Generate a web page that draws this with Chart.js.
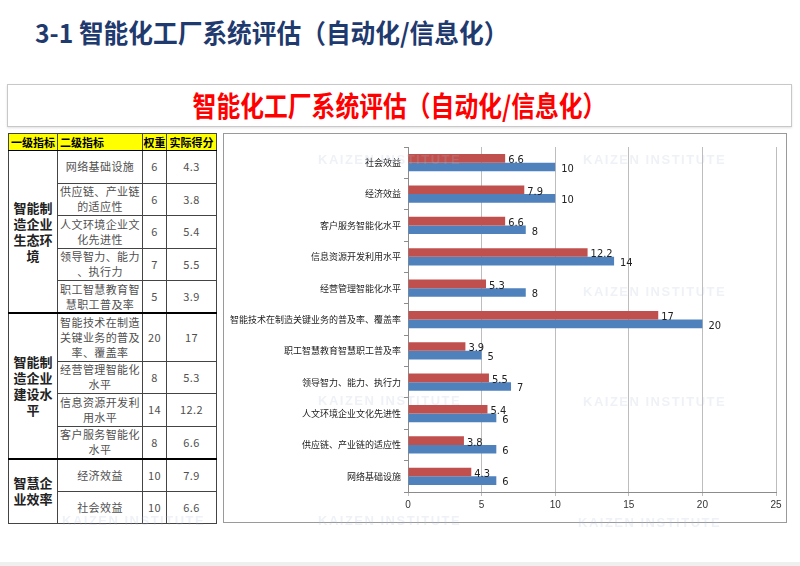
<!DOCTYPE html>
<html><head><meta charset="utf-8">
<script src="https://cdn.jsdelivr.net/npm/chart.js@4.4.0/dist/chart.umd.min.js"></script>
<style>
html,body{margin:0;padding:0;background:#fff;width:800px;height:566px;overflow:hidden;font-family:"Noto Sans CJK SC",sans-serif;}
#page{position:relative;width:800px;height:566px;}
#title{position:absolute;left:35px;top:14px;font-size:26px;font-weight:bold;color:#1F3A6E;white-space:nowrap;transform-origin:left top;transform:scaleX(0.95);line-height:36px;}
#box{position:absolute;left:7px;top:84px;width:785px;height:43px;border:1px solid #C8C8C8;box-sizing:border-box;box-shadow:0 1px 2px rgba(0,0,0,0.12);}
#boxTitle{position:absolute;left:0;right:0;top:0;height:41px;line-height:41px;text-align:center;color:#FF0000;font-weight:bold;font-size:28px;transform:scaleX(0.85);white-space:nowrap;}
#tbl{position:absolute;left:8px;top:133px;width:208px;border-collapse:collapse;table-layout:fixed;border:1.5px solid #000;}
#tbl td,#tbl th{border:1px solid #444;padding:0;text-align:center;vertical-align:middle;color:#505050;font-size:11px;letter-spacing:0.4px;line-height:15px;}
#tbl th{background:#FFFF00;color:#000;font-weight:bold;height:16px;font-size:11px;letter-spacing:0;border-bottom:1px solid #000;}
#tbl td.g{font-weight:bold;font-size:13px;color:#222;line-height:16px;letter-spacing:0;}
#tbl td.g div{width:41px;margin:0 auto;}
#tbl td.s div{width:81px;margin:0 auto;line-break:anywhere;word-break:break-all;}
#tbl tr.gs td{border-top:2px solid #000;}
#cbox{position:absolute;left:223px;top:133px;width:564px;height:390px;border:1px solid #9A9A9A;box-sizing:border-box;background:#fff;}
#cbox canvas{position:absolute;left:0;top:0;}
.wm{position:absolute;color:rgba(170,185,210,0.2);font-weight:bold;font-size:13px;letter-spacing:1.5px;white-space:nowrap;pointer-events:none;font-family:"Liberation Sans",sans-serif;}
#foot{position:absolute;left:0;top:562px;width:800px;height:4px;background:#EFEFEF;}
</style>
</head><body>
<div id="page">
  <div id="title">3-1 智能化工厂系统评估（自动化/信息化）</div>
  <div id="box"><div id="boxTitle">智能化工厂系统评估（自动化/信息化）</div></div>
  <table id="tbl">
    <colgroup><col style="width:49px"><col style="width:85px"><col style="width:24px"><col style="width:50px"></colgroup>
    <thead><tr><th id="h1"></th><th id="h2" style="text-align:left;padding-left:2px"></th><th id="h3"></th><th id="h4"></th></tr></thead>
    <tbody id="tb"></tbody>
  </table>
  <div id="cbox"><canvas id="c" width="562" height="388"></canvas></div>
  <div class="wm" style="left:318px;top:152px">KAIZEN INSTITUTE</div>
  <div class="wm" style="left:583px;top:152px">KAIZEN INSTITUTE</div>
  <div class="wm" style="left:583px;top:284px">KAIZEN INSTITUTE</div>
  <div class="wm" style="left:318px;top:393px">KAIZEN INSTITUTE</div>
  <div class="wm" style="left:583px;top:394px">KAIZEN INSTITUTE</div>
  <div class="wm" style="left:318px;top:513px">KAIZEN INSTITUTE</div>
  <div class="wm" style="left:578px;top:515px">KAIZEN INSTITUTE</div>
  <div class="wm" style="left:62px;top:513px">KAIZEN INSTITUTE</div>
  <div id="foot"></div>
</div>
<script>
// ---- data (table order: top to bottom) ----
const headers = ['一级指标', '二级指标', '权重', '实际得分'];
const groups = ['智能制造企业生态环境', '智能制造企业建设水平', '智慧企业效率'];
const groupSizes = [5, 4, 2];
const indicators = ['网络基础设施', '供应链、产业链的适应性', '人文环境企业文化先进性', '领导智力、能力、执行力', '职工智慧教育智慧职工普及率', '智能技术在制造关键业务的普及率、覆盖率', '经营管理智能化水平', '信息资源开发利用水平', '客户服务智能化水平', '经济效益', '社会效益'];
const weights = [6, 6, 6, 7, 5, 20, 8, 14, 8, 10, 10];
const scores = [4.3, 3.8, 5.4, 5.5, 3.9, 17, 5.3, 12.2, 6.6, 7.9, 6.6];
const xTicks = [0, 5, 10, 15, 20, 25];

// ---- table ----
document.getElementById('h1').textContent = headers[0];
document.getElementById('h2').textContent = headers[1];
document.getElementById('h3').textContent = headers[2];
document.getElementById('h4').textContent = headers[3];
const tb = document.getElementById('tb');
let idx = 0;
groups.forEach((g, gi) => {
  for (let k = 0; k < groupSizes[gi]; k++) {
    const tr = document.createElement('tr');
    if (k === 0 && gi > 0) tr.className = 'gs';
    const name = indicators[idx];
    tr.style.height = (name.length > 14 ? 48 : 32.5) + 'px';
    if (k === 0) {
      const td = document.createElement('td');
      td.className = 'g';
      td.rowSpan = groupSizes[gi];
      const d = document.createElement('div'); d.textContent = g; td.appendChild(d);
      tr.appendChild(td);
    }
    const ts = document.createElement('td'); ts.className = 's';
    const ds = document.createElement('div'); ds.textContent = name; ts.appendChild(ds);
    tr.appendChild(ts);
    const tw = document.createElement('td'); tw.textContent = weights[idx]; tr.appendChild(tw);
    const tsc = document.createElement('td'); tsc.textContent = scores[idx]; tr.appendChild(tsc);
    tb.appendChild(tr);
    idx++;
  }
});

// ---- chart (top to bottom is reverse of table) ----
const chartLabels = indicators.slice().reverse();
const chartScores = scores.slice().reverse();
const chartWeights = weights.slice().reverse();

const labelPlugin = {
  id: 'barLabels',
  afterDatasetsDraw(chart) {
    const ctx = chart.ctx;
    ctx.save();
    ctx.font = '11px "Liberation Sans Narrow", "DejaVu Sans Condensed", "Liberation Sans", sans-serif';
    ctx.fillStyle = '#222';
    ctx.textBaseline = 'middle';
    ctx.textAlign = 'left';
    chart.data.datasets.forEach((ds, i) => {
      const meta = chart.getDatasetMeta(i);
      meta.data.forEach((bar, j) => {
        const off = i === 0 ? 3 : 6;
        ctx.fillText(String(ds.data[j]), bar.x + off, bar.y + 2);
      });
    });
    ctx.restore();
  }
};

new Chart(document.getElementById('c'), {
  type: 'bar',
  data: {
    labels: chartLabels,
    datasets: [
      { label: '实际得分', data: chartScores, backgroundColor: '#C0504D', categoryPercentage: 0.55, barPercentage: 1.0 },
      { label: '权重', data: chartWeights, backgroundColor: '#4F81BD', categoryPercentage: 0.55, barPercentage: 1.0 }
    ]
  },
  options: {
    indexAxis: 'y',
    responsive: false,
    animation: false,
    layout: { padding: { left: 0, right: 10, top: 13, bottom: 0 } },
    plugins: { legend: { display: false }, tooltip: { enabled: false } },
    scales: {
      x: {
        min: 0, max: 25,
        afterBuildTicks(scale) { scale.ticks = xTicks.map(v => ({ value: v })); },
        afterFit(scale) { scale.height = 30; },
        grid: { color: '#BDBDBD', lineWidth: 1, tickLength: 4 },
        border: { color: '#8C8C8C', width: 1 },
        ticks: { color: '#333', font: { size: 10, family: '"Liberation Sans", sans-serif' }, padding: 3 }
      },
      y: {
        afterFit(scale) { scale.width = 184; },
        grid: { drawOnChartArea: false, tickLength: 4, color: '#8C8C8C' },
        border: { color: '#8C8C8C', width: 1 },
        ticks: { color: '#222', font: { size: 9, family: '"Noto Sans CJK SC", sans-serif' }, padding: 3, autoSkip: false }
      }
    }
  },
  plugins: [labelPlugin]
});
</script>
</body></html>
